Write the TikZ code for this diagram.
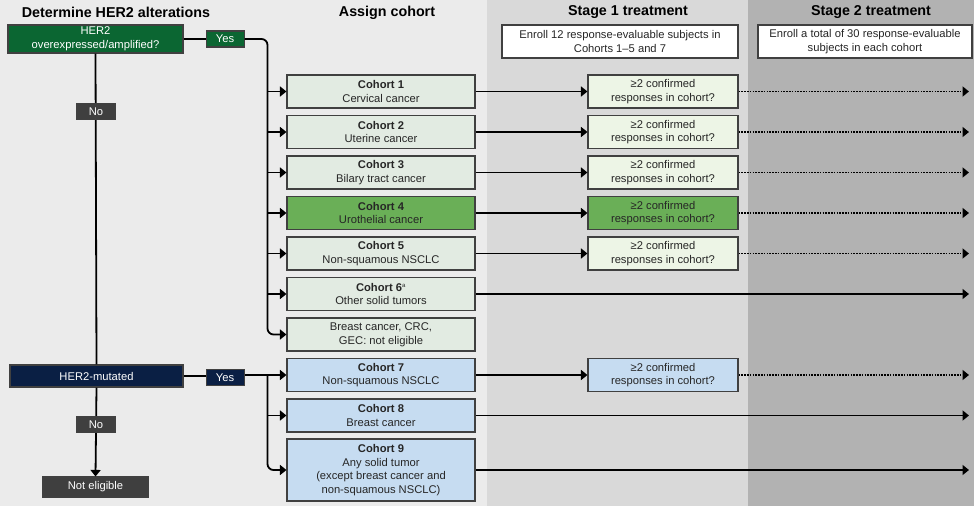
\documentclass[tikz,border=0pt]{standalone}
\usepackage{fontspec}
\setmainfont{Liberation Sans}
\usetikzlibrary{arrows.meta,calc}
\definecolor{bgA}{HTML}{EBEBEB}
\definecolor{bgB}{HTML}{D9D9D9}
\definecolor{bgC}{HTML}{B2B2B2}
\definecolor{dgreen}{HTML}{0B6632}
\definecolor{navy}{HTML}{0A1F44}
\definecolor{dgray}{HTML}{3F3F3F}
\definecolor{cgreen}{HTML}{E2EBE2}
\definecolor{mgreen}{HTML}{6AAF57}
\definecolor{cblue}{HTML}{C6DCF1}
\definecolor{rgreen}{HTML}{EDF5E6}
\definecolor{bord}{HTML}{404040}
\definecolor{txt}{HTML}{262626}
\tikzset{
  hdr/.style={font=\fontsize{14.3}{16}\selectfont\bfseries, text=black},
  box/.style={draw=bord, line width=1.1pt, align=center, inner sep=0pt, text=txt,
    font=\fontsize{11.2}{13.6}\selectfont},
  dbox/.style={box, text=white},
  cohortbox/.style={box, minimum width=188pt, minimum height=33pt, fill=cgreen},
  respbox/.style={box, minimum width=150pt, minimum height=33pt, fill=rgreen},
  lbl/.style={dbox, minimum width=38pt, minimum height=16pt},
  conn/.style={line width=1.8pt, draw=black},
  arr/.style={conn, -{Triangle[length=6.5pt,width=10pt]}},
  dots/.style={arr, line width=1.6pt, dash pattern=on 1.6pt off 1.2pt}
}
\begin{document}
\begin{tikzpicture}[x=1pt,y=-1pt]
\useasboundingbox (0,0) rectangle (974,506);
% backgrounds
\fill[bgA] (0,0) rectangle (487,506);
\fill[bgB] (487,0) rectangle (748,506);
\fill[bgC] (748,0) rectangle (974,506);
% headers
\node[hdr] (h1) at (116,12.5) {Determine HER2 alterations};
\node[hdr] (h2) at (387,12.5) {Assign cohort};
\node[hdr] (h3) at (628,12.5) {Stage 1 treatment};
\node[hdr] (h4) at (871,12.5) {Stage 2 treatment};
\node[box, fill=white, minimum width=236pt, minimum height=33pt] (s1) at (620,41.5)
  {Enroll 12 response-evaluable subjects in\\Cohorts 1--5 and 7};
\node[box, fill=white, minimum width=214pt, minimum height=33pt] (s2) at (865,41.5)
  {Enroll a total of 30 response-evaluable\\subjects in each cohort};
% left decision nodes
\node[dbox, fill=dgreen, minimum width=175pt, minimum height=28pt] (her2) at (95.5,39)
  {HER2\\overexpressed/amplified?};
\node[dbox, fill=navy, minimum width=173pt, minimum height=22pt] (mut) at (96.5,376) {HER2-mutated};
\node[dbox, fill=dgray, minimum width=105pt, minimum height=20pt] (ne) at (95.5,487) {Not eligible};
% cohort boxes
\node[cohortbox] (c1) at (381,91.5) {\textbf{Cohort 1}\\Cervical cancer};
\node[cohortbox] (c2) at (381,132) {\textbf{Cohort 2}\\Uterine cancer};
\node[cohortbox] (c3) at (381,172.5) {\textbf{Cohort 3}\\Bilary tract cancer};
\node[cohortbox, fill=mgreen] (c4) at (381,213) {\textbf{Cohort 4}\\Urothelial cancer};
\node[cohortbox] (c5) at (381,253.5) {\textbf{Cohort 5}\\Non-squamous NSCLC};
\node[cohortbox] (c6) at (381,294) {\textbf{Cohort 6}\textsuperscript{\fontsize{6}{6}\selectfont a}\\Other solid tumors};
\node[cohortbox] (bc) at (381,334.5) {Breast cancer, CRC,\\GEC: not eligible};
\node[cohortbox, fill=cblue] (c7) at (381,375) {\textbf{Cohort 7}\\Non-squamous NSCLC};
\node[cohortbox, fill=cblue] (c8) at (381,415.5) {\textbf{Cohort 8}\\Breast cancer};
\node[cohortbox, fill=cblue, minimum height=62pt] (c9) at (381,470)
  {\textbf{Cohort 9}\\Any solid tumor\\(except breast cancer and\\non-squamous NSCLC)};
% response boxes
\node[respbox] (r1) at (663,91.5) {≥2 confirmed\\responses in cohort?};
\node[respbox] (r2) at (663,132) {≥2 confirmed\\responses in cohort?};
\node[respbox] (r3) at (663,172.5) {≥2 confirmed\\responses in cohort?};
\node[respbox, fill=mgreen] (r4) at (663,213) {≥2 confirmed\\responses in cohort?};
\node[respbox] (r5) at (663,253.5) {≥2 confirmed\\responses in cohort?};
\node[respbox, fill=cblue] (r7) at (663,375) {≥2 confirmed\\responses in cohort?};
% coordinates
\coordinate (b1) at (267.5,39);
\coordinate (b2) at (267.5,334.5);
\coordinate (b3) at (267.5,375);
\coordinate (endx) at (969,0);
% left connectors
\draw[conn] (her2.south) -- (mut.north);
\draw[arr] (mut.south) -- (ne.north);
\draw[conn] (her2.east) -- ($(her2.east)+(22,0)$) node[lbl, fill=dgreen, anchor=west] (yes1) {Yes};
\draw[arr, rounded corners=6pt] (yes1.east) -- (b1) -- (b2) -- (bc.west);
\foreach \n in {c1,c2,c3,c4,c5,c6}{
  \draw[arr] (\n.west -| b1) -- (\n.west);
}
\draw[conn] (mut.east) -- ($(mut.east)+(22,0)$) node[lbl, fill=navy, anchor=west, yshift=-1.5pt] (yes2) {Yes};
\draw[arr] (yes2.east |- c7.west) -- (c7.west);
\draw[arr, rounded corners=6pt] (b3) -- (b3 |- c9.west) -- (c9.west);
\draw[arr] (c8.west -| b3) -- (c8.west);
\node[lbl, fill=dgray] (no1) at (96,111.5) {No};
\node[lbl, fill=dgray] (no2) at (96,424.5) {No};
% right connectors
\foreach \i in {1,2,3,4,5,7}{
  \draw[arr] (c\i.east) -- (r\i.west);
  \draw[dots] (r\i.east) -- (r\i.east -| endx);
}
\draw[arr] (c6.east) -- (c6.east -| endx);
\draw[arr] (c8.east) -- (c8.east -| endx);
\draw[arr] (c9.east) -- (c9.east -| endx);
\end{tikzpicture}
\end{document}
